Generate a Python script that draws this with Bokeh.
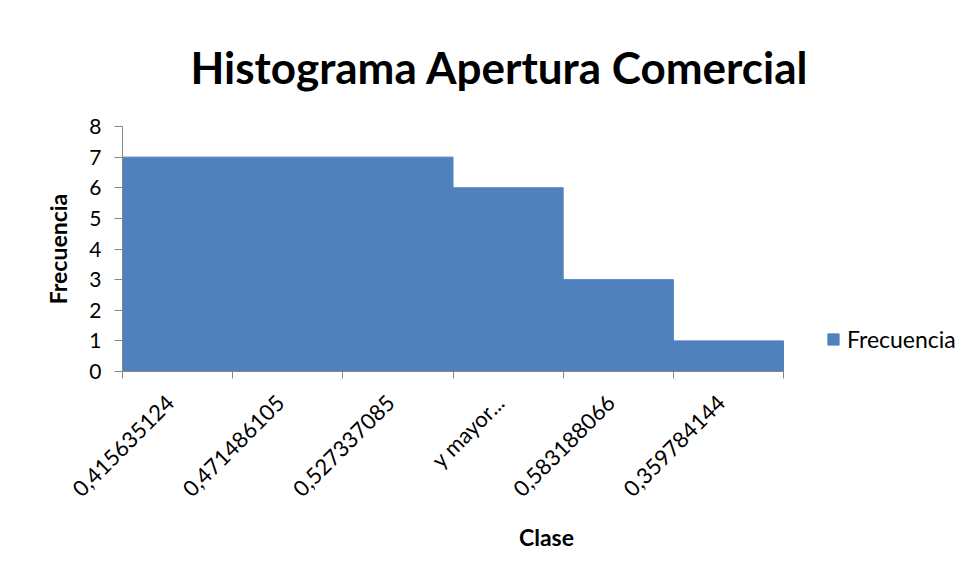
import math
from bokeh.plotting import figure
from bokeh.models import FixedTicker, Legend, LegendItem, ColumnDataSource, Range1d, Title
from bokeh.embed import file_html
from bokeh.resources import INLINE

categories = ["0,415635124", "0,471486105", "0,527337085", "y mayor...", "0,583188066", "0,359784144"]
frecuencia = [7, 7, 7, 6, 3, 1]
y_ticks = [0, 1, 2, 3, 4, 5, 6, 7, 8]

FONT = "Lato"
BAR = "#4F81BD"
AXIS = "#868686"

W, H = 970, 570
LEFT, TOP, BOTTOM = 122, 126, 199
BAR_AREA = 661  # pixel width of the category area
LABEL_SHIFT = 0.07  # nudge rotated labels so their ends sit at the category centre

n = len(categories)
centers = [i + 0.5 for i in range(n)]
label_pos = [c - LABEL_SHIFT for c in centers]
edges = list(range(n + 1))
x_end = n * (W - LEFT) / BAR_AREA

src = ColumnDataSource(dict(x=centers, top=frecuencia, cat=categories))

p = figure(width=W, height=H, output_backend="svg", toolbar_location=None,
           x_range=Range1d(0, x_end), y_range=Range1d(y_ticks[0], y_ticks[-1]),
           min_border_left=LEFT, min_border_right=0, min_border_top=TOP, min_border_bottom=BOTTOM)
p.outline_line_color = None
p.grid.visible = False
p.background_fill_color = "white"
p.border_fill_color = "white"

r = p.vbar(x="x", top="top", width=1.0, bottom=0, source=src, fill_color=BAR, line_color=BAR)

t = Title(text="Histograma Apertura Comercial", align="left", text_font=FONT,
          text_font_size="44px", text_font_style="bold", text_color="black",
          offset=68, standoff=68)
p.add_layout(t, "above")

# x axis
xa = p.xaxis[0]
xa.bounds = (0, n)
xa.ticker = FixedTicker(ticks=label_pos, minor_ticks=edges)
xa.major_label_overrides = {c: lab for c, lab in zip(label_pos, categories)}
xa.major_label_orientation = math.pi / 4
xa.major_tick_line_color = None
xa.minor_tick_line_color = AXIS
xa.minor_tick_out = 7
xa.minor_tick_in = 0
xa.axis_line_color = AXIS
xa.major_label_text_font = FONT
xa.major_label_text_font_size = "22px"
xa.major_label_text_color = "black"
xa.major_label_standoff = 20
xa.axis_label = "Clase"
xa.axis_label_text_font = FONT
xa.axis_label_text_font_style = "bold"
xa.axis_label_text_font_size = "23px"
xa.axis_label_text_color = "black"
xa.axis_label_standoff = 9

ya = p.yaxis[0]
ya.ticker = FixedTicker(ticks=y_ticks)
ya.minor_tick_line_color = None
ya.major_tick_out = 8
ya.major_tick_in = 0
ya.major_tick_line_color = AXIS
ya.axis_line_color = AXIS
ya.major_label_text_font = FONT
ya.major_label_text_font_size = "21px"
ya.major_label_text_color = "black"
ya.major_label_standoff = 13
ya.axis_label = "Frecuencia"
ya.axis_label_text_font = FONT
ya.axis_label_text_font_style = "bold"
ya.axis_label_text_font_size = "23px"
ya.axis_label_text_color = "black"
ya.axis_label_standoff = 14

leg = Legend(items=[LegendItem(label="Frecuencia", renderers=[r])],
             location=(704, 18), border_line_color=None, background_fill_alpha=0,
             label_text_font=FONT, label_text_font_size="23px", label_text_color="black",
             glyph_width=14, glyph_height=14, padding=0, margin=0, label_standoff=7)
p.add_layout(leg, "center")

open("out.html", "w").write(file_html(p, INLINE))
